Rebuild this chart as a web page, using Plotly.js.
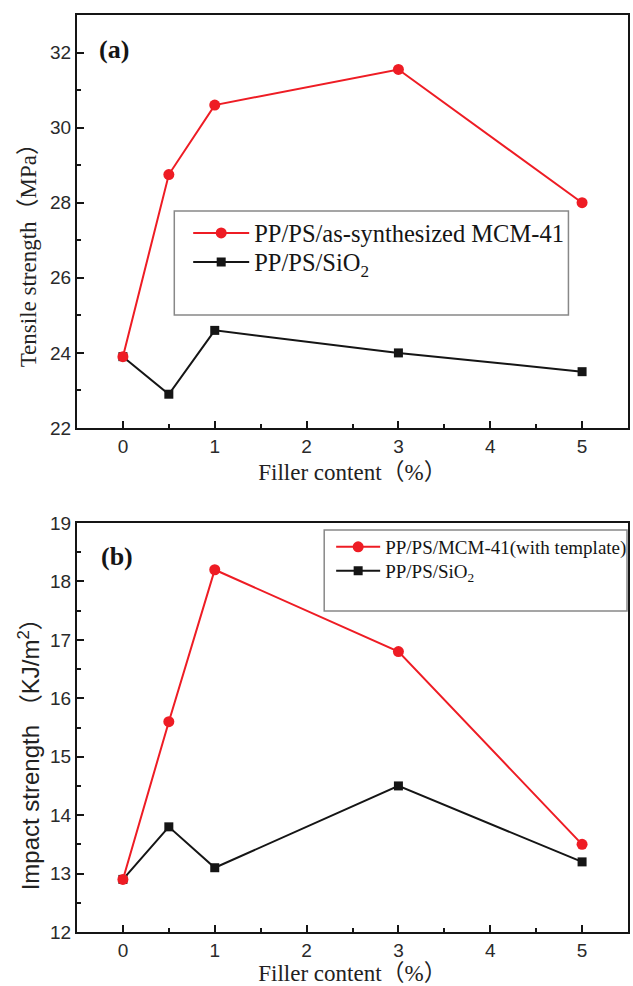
<!DOCTYPE html>
<html>
<head>
<meta charset="utf-8">
<script src="https://cdn.plot.ly/plotly-3.0.1.min.js"></script>
<style>html,body{margin:0;padding:0;background:#fff;}#chart{width:633px;height:986px;}</style>
</head>
<body>
<div id="chart"></div>
<script>
// ---- data ----
const fillerContent = [0, 0.5, 1, 3, 5];
const tensileMCM = [23.9, 28.75, 30.6, 31.55, 28.0];
const tensileSiO2 = [23.9, 22.9, 24.6, 24.0, 23.5];
const impactMCM = [12.9, 15.6, 18.2, 16.8, 13.5];
const impactSiO2 = [12.9, 13.8, 13.1, 14.5, 13.2];
const nameTopMCM = 'PP/PS/as-synthesized MCM-41';
const nameBotMCM = 'PP/PS/MCM-41(with template)';
const nameSiO2 = 'PP/PS/SiO<sub>2</sub>';
const xTitle = 'Filler content（%）';
const yTitleTop = 'Tensile strength（MPa）';
const yTitleBot = 'Impact strength （KJ/m<sup>2</sup>）';

// ---- layout helpers (pixels -> paper) ----
const L = 77, R = 632, T = 15, B = 932;
const px = p => (p - L) / (R - L);
const py = p => (B - p) / (B - T);

const RED = '#ee1c24';
const INK = '#151515';
const serif = 'Liberation Serif, Times New Roman, Noto Sans CJK SC, serif';
const sans = 'Liberation Sans, Arial, Noto Sans CJK SC, sans-serif';

const redStyle = {mode: 'lines+markers', line: {color: RED, width: 2}, marker: {symbol: 'circle', size: 11, color: RED}};
const blkStyle = {mode: 'lines+markers', line: {color: INK, width: 2}, marker: {symbol: 'square', size: 9, color: INK}};

// black series first so the red markers sit on top where they coincide
const traces = [
  Object.assign({x: fillerContent, y: tensileSiO2, name: nameSiO2, xaxis: 'x', yaxis: 'y', legend: 'legend3'}, blkStyle),
  Object.assign({x: fillerContent, y: tensileMCM, name: nameTopMCM, xaxis: 'x', yaxis: 'y', legend: 'legend'}, redStyle),
  Object.assign({x: fillerContent, y: impactSiO2, name: nameSiO2, xaxis: 'x2', yaxis: 'y2', legend: 'legend4'}, blkStyle),
  Object.assign({x: fillerContent, y: impactMCM, name: nameBotMCM, xaxis: 'x2', yaxis: 'y2', legend: 'legend2'}, redStyle)
];

const tickFont = {family: sans, size: 19, color: '#2a2a2a'};
const xCommon = {
  range: [-0.5, 5.5], dtick: 1, tick0: 0, ticks: 'inside', ticklen: 7, tickwidth: 2, tickcolor: INK,
  showline: true, linecolor: INK, linewidth: 2, mirror: true, showgrid: false, zeroline: false,
  tickfont: tickFont,
  minor: {dtick: 0.5, ticks: 'inside', ticklen: 4, tickwidth: 2, tickcolor: INK, showgrid: false}
};
const yCommon = {
  ticks: 'inside', ticklen: 7, tickwidth: 2, tickcolor: INK,
  showline: true, linecolor: INK, linewidth: 2, mirror: true, showgrid: false, zeroline: false,
  tickfont: tickFont
};
const xTitleFont = {family: serif, size: 23, color: '#222'};

function legendAt(xPix, yPix, size, itemwidth) {
  return {x: px(xPix), y: py(yPix), xanchor: 'left', yanchor: 'middle', bgcolor: 'rgba(0,0,0,0)', borderwidth: 0,
    font: {family: serif, size: size, color: INK}, itemwidth: itemwidth, tracegroupgap: 0};
}

const layout = {
  width: 633, height: 986,
  margin: {l: L, r: 633 - R, t: T, b: 986 - B},
  paper_bgcolor: '#fff', plot_bgcolor: '#fff',
  showlegend: true,
  xaxis: Object.assign({}, xCommon, {anchor: 'y', title: {text: xTitle, font: xTitleFont, standoff: 8}}),
  yaxis: Object.assign({}, yCommon, {domain: [py(428), 1], range: [22, 33], dtick: 2, tick0: 22, anchor: 'x',
    minor: {dtick: 1, ticks: 'inside', ticklen: 4, tickwidth: 2, tickcolor: INK, showgrid: false}}),
  xaxis2: Object.assign({}, xCommon, {anchor: 'y2', title: {text: xTitle, font: xTitleFont, standoff: 8}}),
  yaxis2: Object.assign({}, yCommon, {domain: [0, py(523)], range: [12, 19], dtick: 1, tick0: 12, anchor: 'x2',
    minor: {dtick: 0.5, ticks: 'inside', ticklen: 4, tickwidth: 2, tickcolor: INK, showgrid: false}}),
  legend: legendAt(189, 233, 24.5, 56),
  legend3: legendAt(189, 262, 24.5, 56),
  legend2: legendAt(333, 547, 19, 44),
  legend4: legendAt(333, 571, 19, 44),
  shapes: [
    {type: 'rect', xref: 'paper', yref: 'paper', x0: px(175), x1: px(572), y0: py(211), y1: py(315),
     line: {color: '#888', width: 1.5}, layer: 'below'},
    {type: 'rect', xref: 'paper', yref: 'paper', x0: px(326), x1: px(631), y0: py(530), y1: py(611),
     line: {color: '#888', width: 1.5}, layer: 'below'}
  ],
  annotations: [
    {text: '<b>(a)</b>', xref: 'paper', yref: 'paper', x: px(97), y: py(50), xanchor: 'left', yanchor: 'middle',
     showarrow: false, font: {family: serif, size: 26, color: INK}},
    {text: '<b>(b)</b>', xref: 'paper', yref: 'paper', x: px(99), y: py(557), xanchor: 'left', yanchor: 'middle',
     showarrow: false, font: {family: serif, size: 26, color: INK}},
    {text: yTitleTop, xref: 'paper', yref: 'paper', x: px(28), y: py(250), xanchor: 'center', yanchor: 'middle',
     textangle: -90, showarrow: false, font: {family: serif, size: 23, color: '#222'}},
    {text: yTitleBot, xref: 'paper', yref: 'paper', x: px(29), y: py(748), xanchor: 'center', yanchor: 'middle',
     textangle: -90, showarrow: false, font: {family: sans, size: 24, color: '#222'}}
  ]
};

Plotly.newPlot('chart', traces, layout, {displayModeBar: false, staticPlot: true});
</script>
</body>
</html>
